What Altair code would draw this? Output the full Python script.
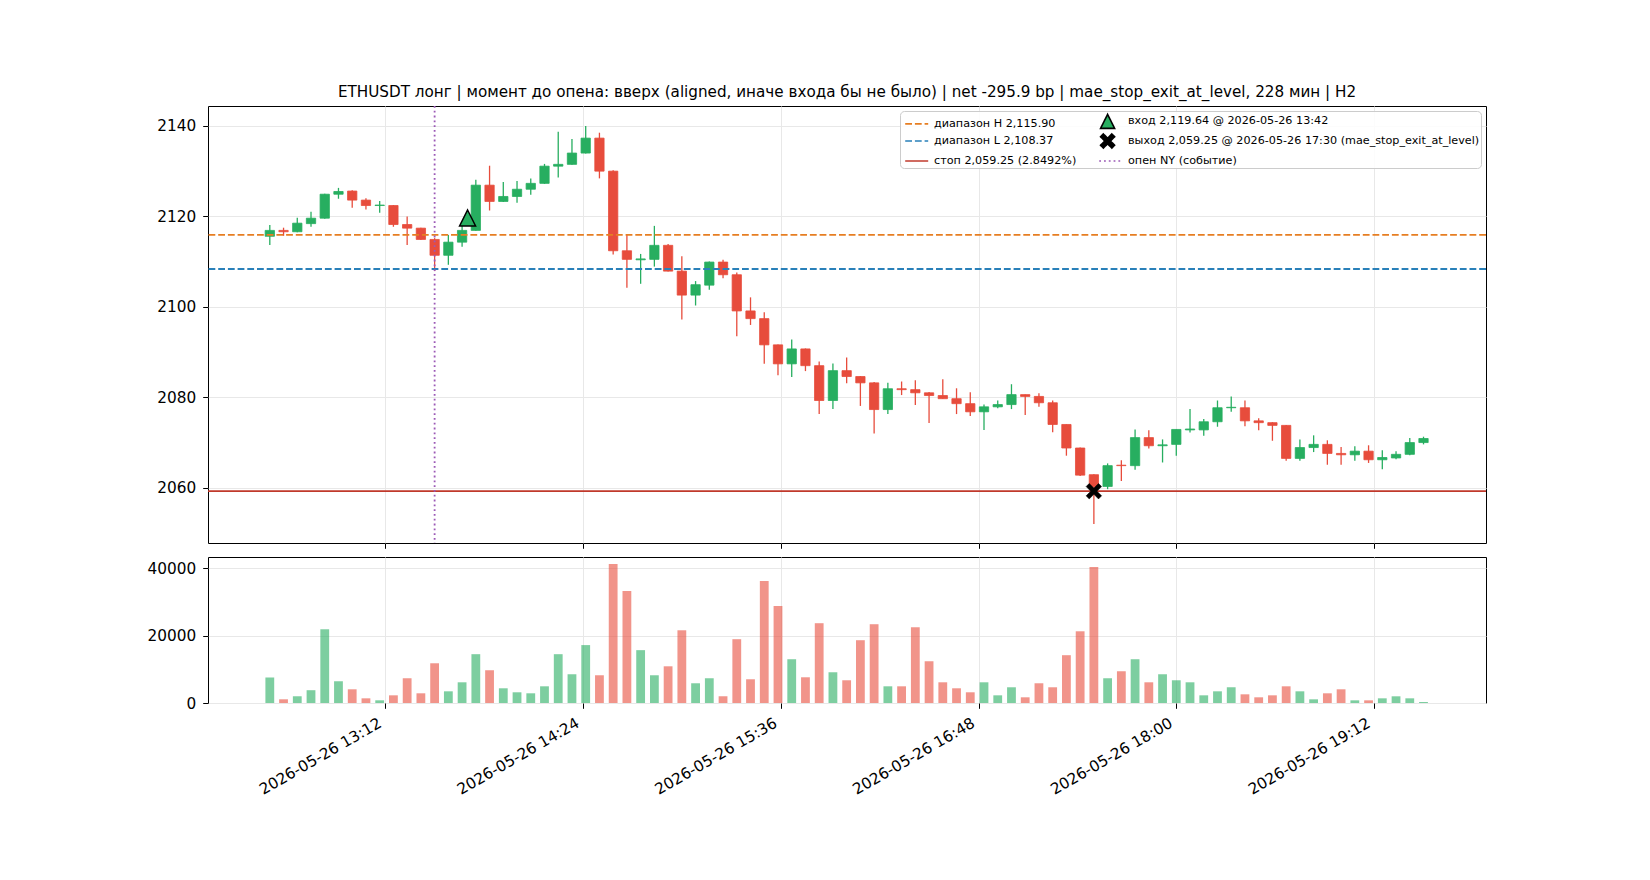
import altair as alt
import pandas as pd

DAY = "2026/05/26 "
TIMES = """12:30 12:35 12:40 12:45 12:50 12:55
13:00 13:05 13:10 13:15 13:20 13:25 13:30 13:35 13:40 13:45 13:50 13:55
14:00 14:05 14:10 14:15 14:20 14:25 14:30 14:35 14:40 14:45 14:50 14:55
15:00 15:05 15:10 15:15 15:20 15:25 15:30 15:35 15:40 15:45 15:50 15:55
16:00 16:05 16:10 16:15 16:20 16:25 16:30 16:35 16:40 16:45 16:50 16:55
17:00 17:05 17:10 17:15 17:20 17:25 17:30 17:35 17:40 17:45 17:50 17:55
18:00 18:05 18:10 18:15 18:20 18:25 18:30 18:35 18:40 18:45 18:50 18:55
19:00 19:05 19:10 19:15 19:20 19:25 19:30""".split()

OPEN = [2115.6, 2116.9, 2116.6, 2118.4, 2119.6, 2124.9, 2125.6, 2123.6, 2122.4, 2122.4,
        2118.2, 2117.4, 2114.9, 2111.4, 2114.3, 2116.9, 2126.9, 2123.3, 2124.4, 2126.0,
        2127.3, 2131.1, 2131.5, 2134.0, 2137.3, 2130.0, 2112.4, 2110.4, 2110.5, 2113.6,
        2107.9, 2102.6, 2104.8, 2109.9, 2107.1, 2099.1, 2097.4, 2091.6, 2087.4, 2090.7,
        2087.0, 2079.3, 2085.9, 2084.6, 2083.2, 2077.3, 2081.9, 2081.7, 2081.0, 2080.4,
        2079.7, 2078.6, 2076.8, 2077.9, 2078.4, 2080.6, 2080.2, 2078.8, 2074.0, 2068.8,
        2062.9, 2060.3, 2065.0, 2064.9, 2071.1, 2069.3, 2069.6, 2072.8, 2072.8, 2074.6,
        2077.7, 2077.7, 2074.8, 2074.4, 2073.8, 2066.5, 2068.9, 2069.6, 2067.6, 2067.3,
        2068.1, 2066.2, 2066.6, 2067.4, 2070.0]
HIGH = [2118.1, 2117.5, 2119.7, 2121.0, 2125.0, 2126.3, 2125.8, 2124.0, 2123.4, 2122.5,
        2120.0, 2117.5, 2115.2, 2115.9, 2118.6, 2128.1, 2131.2, 2127.6, 2127.8, 2128.4,
        2131.6, 2138.7, 2137.1, 2140.0, 2138.5, 2130.2, 2115.9, 2111.7, 2117.9, 2113.9,
        2111.2, 2105.7, 2110.0, 2110.4, 2107.6, 2102.1, 2098.8, 2091.7, 2092.8, 2090.8,
        2087.9, 2087.5, 2088.8, 2084.7, 2083.4, 2083.2, 2083.5, 2083.8, 2081.2, 2084.0,
        2082.0, 2081.1, 2078.4, 2079.3, 2082.9, 2080.6, 2080.9, 2079.3, 2074.0, 2068.9,
        2063.0, 2065.4, 2066.1, 2072.9, 2072.7, 2070.7, 2072.9, 2077.4, 2075.2, 2079.3,
        2080.2, 2079.3, 2075.4, 2074.5, 2073.9, 2070.7, 2071.6, 2070.5, 2069.0, 2069.2,
        2069.4, 2068.3, 2068.1, 2071.0, 2071.3]
LOW = [2113.7, 2115.7, 2116.5, 2117.7, 2119.5, 2123.9, 2121.9, 2121.5, 2120.8, 2117.7,
       2113.7, 2114.8, 2107.9, 2109.3, 2113.3, 2116.8, 2121.3, 2123.2, 2123.0, 2124.8,
       2127.2, 2128.6, 2131.4, 2133.9, 2128.4, 2111.6, 2104.2, 2105.1, 2108.9, 2107.8,
       2097.2, 2100.3, 2103.8, 2106.3, 2093.5, 2096.0, 2087.4, 2084.9, 2084.5, 2085.8,
       2076.3, 2077.4, 2083.1, 2078.1, 2072.0, 2076.3, 2080.5, 2078.3, 2074.3, 2079.7,
       2076.3, 2075.9, 2072.8, 2077.6, 2077.4, 2076.1, 2077.9, 2072.3, 2067.1, 2062.6,
       2052.0, 2059.7, 2061.5, 2064.0, 2068.7, 2065.6, 2067.1, 2072.2, 2071.5, 2073.5,
       2076.8, 2073.6, 2072.7, 2070.4, 2066.0, 2066.0, 2067.9, 2065.1, 2065.1, 2066.0,
       2065.5, 2064.1, 2066.3, 2067.2, 2069.6]
CLOSE = [2116.9, 2116.6, 2118.5, 2119.6, 2124.9, 2125.5, 2123.6, 2122.4, 2122.5, 2118.2,
         2117.4, 2114.9, 2111.4, 2114.3, 2116.9, 2126.9, 2123.3, 2124.4, 2126.0, 2127.3,
         2131.1, 2131.5, 2134.0, 2137.3, 2130.0, 2112.4, 2110.5, 2110.6, 2113.6, 2107.9,
         2102.6, 2104.9, 2109.9, 2107.1, 2099.1, 2097.4, 2091.6, 2087.4, 2090.7, 2087.0,
         2079.3, 2085.9, 2084.6, 2083.2, 2077.3, 2081.9, 2081.7, 2081.0, 2080.4, 2079.7,
         2078.6, 2076.8, 2077.9, 2078.4, 2080.6, 2080.2, 2078.8, 2074.0, 2068.8, 2062.8,
         2060.3, 2064.9, 2064.9, 2071.1, 2069.3, 2069.5, 2072.9, 2073.0, 2074.6, 2077.7,
         2077.8, 2074.8, 2074.4, 2073.8, 2066.5, 2068.9, 2069.6, 2067.6, 2067.3, 2068.1,
         2066.2, 2066.7, 2067.4, 2070.0, 2070.9]
VOLUME = [7600, 1100, 2000, 3800, 21900, 6450, 4070, 1390, 800, 2280,
          7350, 2880, 11800, 3470, 6150, 14500, 9730, 4370, 3180, 2880,
          4960, 14500, 8540, 17200, 8240, 41300, 33250, 15700, 8240, 10900,
          21600, 5860, 7350, 1990, 18950, 7050, 36200, 28800, 13000, 7640,
          23700, 9130, 6750, 18650, 23400, 4960, 4960, 22500, 12400, 6150,
          4370, 3180, 6150, 2280, 4670, 1690, 5860, 4670, 14200, 21300,
          40400, 7350, 9430, 13000, 6150, 8540, 6750, 6150, 2280, 3470,
          4670, 2580, 1690, 2280, 4960, 3470, 1090, 2880, 4070, 790,
          790, 1390, 1990, 1390, 300]

TICK_TIMES = ["13:12", "14:24", "15:36", "16:48", "18:00", "19:12"]
PRICE_TICKS = [2060, 2080, 2100, 2120, 2140]
VOL_TICKS = [0, 20000, 40000]

RANGE_H = 2115.90
RANGE_L = 2108.37
STOP = 2059.25
STOP_PCT = 2.8492
ENTRY_TIME = "13:42"
ENTRY_PRICE = 2119.64
EXIT_TIME = "17:30"
EXIT_PRICE = 2059.25
EXIT_REASON = "mae_stop_exit_at_level"
NY_OPEN = "13:30"
TITLE = ("ETHUSDT лонг | момент до опена: вверх (aligned, иначе входа бы не было) | "
         "net -295.9 bp | mae_stop_exit_at_level, 228 мин | H2")

GREEN = "#27ae60"
RED = "#e74c3c"
ORANGE = "#e67e22"
BLUE = "#2980b9"
STOPRED = "#c0392b"
PURPLE = "#9b59b6"
FONT = "DejaVu Sans"

df = pd.DataFrame({"t": [DAY + t for t in TIMES], "o": OPEN, "h": HIGH,
                   "l": LOW, "c": CLOSE, "v": VOLUME})
df["col"] = [GREEN if c >= o else RED for o, c in zip(OPEN, CLOSE)]


def dt(hm, s=0):
    h, m = map(int, hm.split(":"))
    return alt.DateTime(year=2026, month=5, date=26, hours=h, minutes=m, seconds=s)


X_DOMAIN = [dt("12:07", 30), dt("19:52", 45)]
X_TICKS = [dt(t) for t in TICK_TIMES]
xscale = alt.Scale(domain=X_DOMAIN, padding=0)

x_price = alt.X("t:T", scale=xscale,
                axis=alt.Axis(values=X_TICKS, labels=False, title=None, ticks=True, grid=True))
y_price = alt.Y("l:Q", scale=alt.Scale(domain=[2047.8, 2144.4], nice=False, zero=False),
                axis=alt.Axis(values=PRICE_TICKS, format="d", title=None))

base = alt.Chart(df)
wicks = base.mark_rule(strokeWidth=1.3).encode(
    x=x_price, y=y_price, y2="h:Q", stroke=alt.Stroke("col:N", scale=None))
bodies = base.mark_bar(size=9.3, strokeWidth=0.8).encode(
    x="t:T", y="o:Q", y2="c:Q",
    fill=alt.Fill("col:N", scale=None), stroke=alt.Stroke("col:N", scale=None))

h_line = alt.Chart(pd.DataFrame({"p": [RANGE_H]})).mark_rule(
    color=ORANGE, strokeWidth=1.8, strokeDash=[6.8, 2.9]).encode(y="p:Q")
l_line = alt.Chart(pd.DataFrame({"p": [RANGE_L]})).mark_rule(
    color=BLUE, strokeWidth=1.8, strokeDash=[6.8, 2.9]).encode(y="p:Q")
stop_line = alt.Chart(pd.DataFrame({"p": [STOP]})).mark_rule(
    color=STOPRED, strokeWidth=1.8).encode(y="p:Q")
ny_line = alt.Chart(pd.DataFrame({"t": [DAY + NY_OPEN]})).mark_rule(
    color=PURPLE, strokeWidth=1.8, strokeDash=[1.8, 3.0]).encode(x="t:T")

TRI = "M0,-1L1,1L-1,1Z"
XPATH = ("M-1,-0.6L-0.6,-1L0,-0.4L0.6,-1L1,-0.6L0.4,0L1,0.6L0.6,1L0,0.4"
         "L-0.6,1L-1,0.6L-0.4,0Z")
entry = alt.Chart(pd.DataFrame({"t": [DAY + ENTRY_TIME], "p": [ENTRY_PRICE]})).mark_point(
    shape=TRI, size=256, filled=True, fill=GREEN, stroke="black", strokeWidth=1.5,
    opacity=1).encode(x="t:T", y="p:Q")
exit_ = alt.Chart(pd.DataFrame({"t": [DAY + EXIT_TIME], "p": [EXIT_PRICE]})).mark_point(
    shape=XPATH, size=240, filled=True, fill="black", stroke="black", strokeWidth=0.5,
    opacity=1).encode(x="t:T", y="p:Q")

LABELS = [
    f"диапазон H {RANGE_H:,.2f}",
    f"диапазон L {RANGE_L:,.2f}",
    f"стоп {STOP:,.2f} ({STOP_PCT:.4f}%)",
    f"вход {ENTRY_PRICE:,.2f} @ 2026-05-26 {ENTRY_TIME}",
    f"выход {EXIT_PRICE:,.2f} @ 2026-05-26 {EXIT_TIME} ({EXIT_REASON})",
    "опен NY (событие)",
]
LEG_LINE = "M-0.6,0L2.275,0"
LEG_TRI = "M0.45,-0.88L1.33,0.88L-0.43,0.88Z"
LEG_X = ("M-0.43,-0.53L-0.08,-0.88L0.45,-0.35L0.98,-0.88L1.33,-0.53L0.8,0"
         "L1.33,0.53L0.98,0.88L0.45,0.35L-0.08,0.88L-0.43,0.53L0.1,0Z")
SHAPES = [LEG_LINE, LEG_LINE, LEG_LINE, LEG_TRI, LEG_X, LEG_LINE]
FILLS = ["transparent", "transparent", "transparent", GREEN, "black", "transparent"]
STROKES = [ORANGE, BLUE, STOPRED, "black", "black", PURPLE]
DASHES = [[6.8, 2.9], [6.8, 2.9], [1, 0], [1, 0], [1, 0], [1.8, 3.0]]

leg = alt.Legend(title=None, orient="top-right", columns=2, offset=5, padding=1,
                 fillColor="rgba(255,255,255,0.85)", strokeColor="#cccccc", cornerRadius=4,
                 labelFont=FONT, labelFontSize=11.2, labelColor="black", labelLimit=2000,
                 symbolSize=256, symbolStrokeWidth=1.6, symbolOpacity=1,
                 labelOffset=15, rowPadding=-2.5, columnPadding=18)
legend_layer = alt.Chart(pd.DataFrame({"lab": LABELS})).mark_point(opacity=0).encode(
    fill=alt.Fill("lab:N", scale=alt.Scale(domain=LABELS, range=FILLS), legend=leg),
    stroke=alt.Stroke("lab:N", scale=alt.Scale(domain=LABELS, range=STROKES), legend=leg),
    shape=alt.Shape("lab:N", scale=alt.Scale(domain=LABELS, range=SHAPES), legend=leg),
    strokeDash=alt.StrokeDash("lab:N", scale=alt.Scale(domain=LABELS, range=DASHES), legend=leg),
)

price = alt.layer(wicks, bodies, h_line, l_line, stop_line, ny_line, entry, exit_,
                  legend_layer).properties(
    width=1278, height=437,
    title=alt.TitleParams(TITLE, anchor="middle", frame="group"))

volume = base.mark_bar(size=8.8, opacity=0.6).encode(
    x=alt.X("t:T", scale=xscale,
            axis=alt.Axis(values=X_TICKS, format="%Y-%m-%d %H:%M", labelAngle=-30,
                          labelAlign="right", labelBaseline="top", title=None,
                          labelOverlap=False, labelFlush=False, labelPadding=7,
                          labelOffset=-9)),
    y=alt.Y("v:Q", scale=alt.Scale(domain=[0, 43365], nice=False),
            axis=alt.Axis(values=VOL_TICKS, format="d", title=None)),
    fill=alt.Fill("col:N", scale=None),
).properties(width=1278, height=146)

chart = alt.vconcat(price, volume, spacing=6).properties(
    padding={"left": 138, "top": 76, "right": 5, "bottom": 5}
).configure_view(stroke="black", strokeWidth=1).configure_axis(
    domain=False, tickColor="black", tickSize=5.3, tickWidth=1, labelColor="black",
    labelFont=FONT, labelFontSize=15.3, gridColor="#e8e8e8", gridWidth=1
).configure_axisY(labelPadding=7).configure_title(
    font=FONT, fontSize=15.2, fontWeight="normal", color="black", offset=5
)

chart.save("out.html", embed_options={"renderer": "svg", "actions": False})
